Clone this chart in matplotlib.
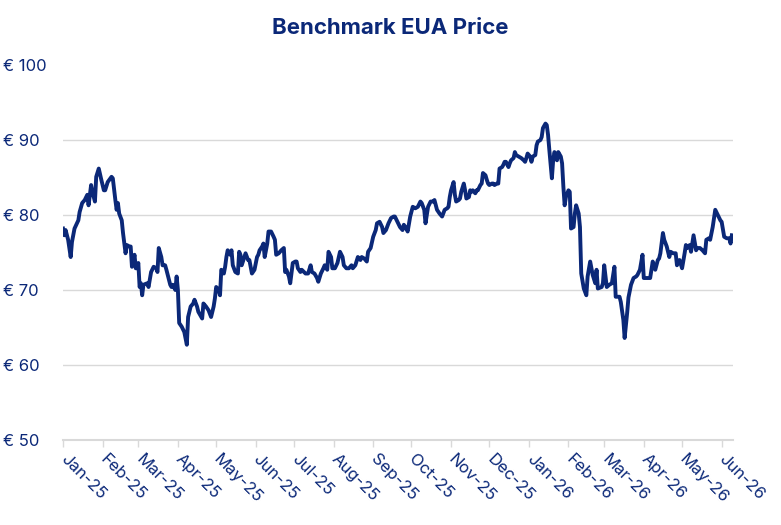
#!/usr/bin/env python3
# -*- coding: utf-8 -*-

import pandas as pd
import matplotlib
matplotlib.use("Agg")
import matplotlib.pyplot as plt
import matplotlib.dates as mdates
import matplotlib.ticker as mticker

# ====== DATA ======
START_DATE = "2025-01-01"

# days since START_DATE
day_offsets = [
    0, 1, 2, 4, 6, 7, 9, 12, 13, 15, 17, 19, 20, 22, 23, 25, 26, 28, 30, 32,
    33, 35, 38, 39, 41, 42, 43, 44, 46, 47, 49, 50, 52, 53, 54, 56, 57, 58, 59, 60,
    61, 62, 63, 66, 67, 69, 71, 73, 74, 75, 77, 78, 80, 81, 84, 85, 86, 88, 89, 90,
    91, 93, 95, 97, 98, 100, 102, 103, 105, 106, 109, 110, 112, 114, 116, 118, 119, 120, 122, 123,
    124, 126, 127, 128, 129, 131, 132, 133, 135, 137, 138, 139, 140, 142, 143, 145, 146, 148, 150, 152,
    153, 154, 156, 157, 158, 160, 161, 163, 165, 166, 167, 169, 171, 173, 174, 175, 177, 178, 180, 182,
    183, 184, 186, 187, 190, 192, 194, 195, 197, 199, 200, 202, 204, 205, 207, 208, 210, 211, 213, 215,
    217, 219, 220, 222, 224, 226, 227, 229, 231, 233, 234, 236, 238, 239, 241, 243, 245, 246, 248, 250,
    251, 253, 255, 257, 259, 260, 262, 264, 266, 267, 269, 270, 272, 274, 276, 278, 280, 281, 283, 284,
    286, 288, 290, 291, 293, 295, 297, 299, 301, 302, 303, 304, 306, 307, 308, 310, 311, 312, 314, 315,
    316, 318, 319, 320, 321, 323, 324, 325, 327, 328, 329, 331, 332, 333, 334, 336, 337, 338, 340, 341,
    342, 344, 345, 346, 347, 349, 350, 351, 353, 354, 355, 357, 359, 361, 362, 363, 364, 366, 367, 368,
    370, 371, 372, 374, 375, 376, 378, 379, 380, 381, 383, 384, 385, 386, 387, 388, 390, 391, 392, 393,
    394, 396, 397, 398, 400, 401, 402, 404, 405, 406, 408, 410, 411, 413, 415, 417, 418, 419, 422, 423,
    424, 426, 428, 430, 432, 433, 436, 437, 439, 440, 442, 443, 445, 447, 449, 450, 452, 454, 455, 457,
    460, 461, 462, 464, 466, 467, 468, 470, 471, 473, 475, 476, 478, 480, 481, 483, 485, 487, 488, 489,
    491, 492, 494, 496, 497, 499, 501, 503, 504, 506, 507, 509, 510, 511, 513, 515, 516, 518, 520, 522,
    523, 524,
]

# EUA price, EUR/t
eua_price = [
    78.2, 77.3, 78.0, 76.7, 74.4, 76.4, 78.2, 79.3, 80.4, 81.6, 82.0, 82.7, 81.3, 84.0, 83.1, 81.8, 85.1, 86.2, 84.7, 83.3,
    83.3, 84.4, 85.1, 84.9, 82.0, 80.7, 81.6, 80.2, 79.3, 77.6, 74.9, 76.0, 75.8, 75.8, 73.1, 74.7, 72.9, 72.9, 73.6, 70.4,
    70.9, 69.3, 70.7, 70.9, 70.4, 72.4, 73.1, 72.9, 72.4, 75.6, 74.4, 73.3, 73.3, 72.7, 70.7, 70.4, 70.7, 70.0, 71.8, 70.0,
    65.6, 65.1, 64.4, 62.7, 66.4, 67.8, 68.2, 68.7, 67.8, 67.1, 66.2, 68.2, 67.8, 67.3, 66.4, 67.8, 68.9, 70.4, 70.0, 69.3,
    72.7, 72.2, 73.1, 74.4, 75.3, 74.7, 75.3, 73.3, 72.4, 72.2, 75.1, 74.7, 73.3, 74.4, 74.9, 74.0, 74.0, 72.2, 72.7, 74.4,
    74.7, 75.3, 75.8, 76.2, 74.4, 76.2, 77.8, 77.8, 77.1, 76.7, 74.7, 74.9, 75.3, 75.6, 72.4, 72.7, 71.8, 70.9, 73.6, 73.8,
    73.8, 72.9, 72.4, 72.7, 72.2, 72.2, 73.3, 72.4, 72.2, 71.6, 71.1, 72.2, 72.9, 73.3, 72.7, 75.1, 74.4, 72.9, 72.9, 73.6,
    75.1, 74.4, 73.3, 72.9, 72.9, 73.3, 72.9, 73.3, 74.4, 74.0, 74.4, 74.2, 73.8, 75.1, 75.6, 77.1, 78.0, 78.9, 79.1, 78.4,
    77.6, 78.0, 78.9, 79.6, 79.8, 79.8, 79.1, 78.4, 78.0, 78.7, 78.2, 77.8, 79.8, 81.1, 80.9, 81.1, 81.8, 81.6, 80.7, 78.9,
    81.1, 81.8, 81.8, 82.0, 80.7, 80.2, 79.8, 80.7, 80.9, 81.1, 82.4, 83.3, 84.4, 82.7, 81.8, 82.0, 82.2, 83.1, 84.2, 83.3,
    82.2, 82.4, 83.3, 83.1, 83.3, 82.9, 83.3, 83.3, 84.0, 84.2, 85.6, 85.3, 84.7, 84.2, 84.0, 84.2, 84.2, 84.0, 84.2, 84.2,
    86.2, 86.4, 86.7, 87.1, 87.1, 86.4, 86.9, 87.3, 87.6, 88.4, 88.0, 87.8, 87.6, 87.3, 87.1, 87.6, 88.2, 87.8, 87.1, 87.8,
    88.0, 89.3, 89.8, 90.0, 90.4, 91.6, 92.2, 92.0, 90.7, 88.7, 84.9, 87.3, 88.4, 88.0, 87.3, 88.4, 87.8, 86.9, 83.8, 81.3,
    82.4, 83.3, 83.1, 78.2, 78.4, 80.2, 81.3, 80.2, 78.4, 72.2, 70.2, 69.3, 71.8, 73.8, 72.0, 70.9, 72.7, 70.2, 70.4, 70.9,
    73.3, 70.4, 70.7, 70.9, 73.1, 69.1, 69.1, 68.4, 66.0, 63.6, 67.0, 69.0, 70.7, 71.6, 71.8, 72.0, 72.7, 74.7, 71.6, 71.6,
    71.6, 72.7, 73.8, 72.7, 74.0, 74.2, 74.9, 77.6, 76.7, 75.8, 74.4, 75.1, 74.9, 74.9, 73.3, 74.0, 72.9, 74.9, 76.0, 75.6,
    76.0, 75.1, 77.3, 75.3, 75.6, 75.6, 75.3, 74.9, 76.7, 76.9, 76.7, 78.4, 79.6, 80.7, 80.0, 79.3, 79.1, 77.1, 76.9, 76.9,
    76.2, 77.3,
]

y_ticks = [50, 60, 70, 80, 90, 100]
title = "Benchmark EUA Price"

# ====== STYLE ======
NAVY = "#0b2878"
GRID = "#d9d9d9"
plt.rcParams["font.family"] = ["Inter", "DejaVu Sans"]


def main():
    start = pd.Timestamp(START_DATE)
    dates = start + pd.to_timedelta(day_offsets, unit="D")
    df = pd.DataFrame({"date": dates, "price": eua_price})

    fig = plt.figure(figsize=(7.81, 5.25), dpi=100)
    ax = fig.add_axes([0.0807, 0.162, 0.858, 0.714])

    ax.plot(df["date"], df["price"], color=NAVY, linewidth=2.8,
            solid_joinstyle="round", zorder=3)

    ax.set_ylim(50, 100)
    ax.set_xlim(start, start + pd.Timedelta(days=525))

    # osa Y
    ax.yaxis.set_major_locator(mticker.FixedLocator(y_ticks))
    ax.yaxis.set_major_formatter(mticker.FuncFormatter(lambda v, p: f"€ {v:.0f}"))
    ax.tick_params(axis="y", length=0, pad=43.5, labelsize=12, labelcolor=NAVY)
    for lbl in ax.get_yticklabels():
        lbl.set_horizontalalignment("left")

    ax.set_axisbelow(True)
    ax.yaxis.grid(True, color=GRID, linewidth=1.0)
    # no gridline at the top value
    ax.get_ygridlines()[-1].set_visible(False)

    # osa X - monthly ticks
    ax.xaxis.set_major_locator(mdates.MonthLocator())
    ax.xaxis.set_major_formatter(mdates.DateFormatter("%b-%y"))
    ax.tick_params(axis="x", length=5, width=1, color=GRID, pad=7,
                   labelsize=12, labelcolor=NAVY)
    plt.setp(ax.get_xticklabels(), rotation=-45, ha="left", va="center",
             rotation_mode="anchor")

    for side in ["top", "right", "left"]:
        ax.spines[side].set_visible(False)
    ax.spines["bottom"].set_color(GRID)
    ax.spines["bottom"].set_linewidth(1.5)

    fig.text(0.5, 0.946, title, ha="center", va="center", fontsize=16,
             fontweight="bold", color=NAVY)

    fig.savefig("out.png", dpi=100)
    plt.close(fig)


if __name__ == "__main__":
    main()
